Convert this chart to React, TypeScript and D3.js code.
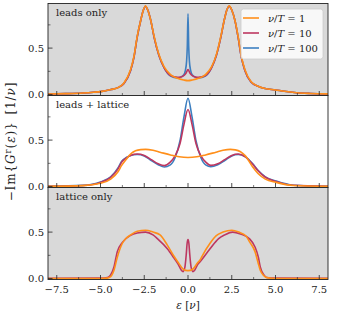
import React from "react";
import * as d3 from "d3";

// ---------- data ----------
const seriesNames = ["ν/T = 1", "ν/T = 10", "ν/T = 100"];
const panelLabels = ["leads only", "leads + lattice", "lattice only"];
const xTicksMajor = [-7.5, -5, -2.5, 0, 2.5, 5, 7.5];
const xTicksMinor = [-6.25, -3.75, -1.25, 1.25, 3.75, 6.25];
const yTicksMajor = [0, 0.5];
const yTicksMinor = [0.25, 0.75];

// Panel 1: leads only
const p1OrangeX = [-8, -7, -6, -5.4, -5, -4.4, -4, -3.66, -3.28, -3.09, -2.9, -2.7, -2.55, -2.42, -2.3, -2.13, -1.94, -1.66, -1.37, -1, -0.6, -0.25, 0, 0.25, 0.6, 1, 1.35, 1.62, 1.88, 2.07, 2.22, 2.36, 2.5, 2.68, 2.86, 3.05, 3.25, 3.6, 4.0, 4.4, 5.0, 5.5, 6.2, 7, 8];
const p1OrangeY = [0.006, 0.01, 0.017, 0.025, 0.032, 0.054, 0.075, 0.125, 0.27, 0.41, 0.63, 0.8, 0.91, 0.955, 0.91, 0.8, 0.63, 0.43, 0.3, 0.215, 0.175, 0.157, 0.15, 0.157, 0.175, 0.215, 0.3, 0.43, 0.63, 0.8, 0.91, 0.955, 0.91, 0.8, 0.63, 0.41, 0.27, 0.14, 0.09, 0.065, 0.05, 0.035, 0.02, 0.012, 0.007];
const p1RedX = [-8, -7, -6, -5.4, -5, -4.4, -4, -3.66, -3.28, -3.09, -2.9, -2.7, -2.55, -2.42, -2.3, -2.13, -1.94, -1.66, -1.37, -1, -0.6, -0.4, -0.2, -0.1, 0, 0.1, 0.2, 0.4, 0.6, 1, 1.35, 1.62, 1.88, 2.07, 2.22, 2.36, 2.5, 2.68, 2.86, 3.05, 3.25, 3.6, 4.0, 4.4, 5.0, 5.5, 6.2, 7, 8];
const p1RedY = [0.006, 0.01, 0.017, 0.025, 0.032, 0.054, 0.075, 0.12, 0.26, 0.4, 0.62, 0.8, 0.91, 0.95, 0.91, 0.8, 0.62, 0.42, 0.29, 0.205, 0.185, 0.19, 0.21, 0.235, 0.27, 0.235, 0.21, 0.19, 0.185, 0.205, 0.29, 0.42, 0.62, 0.8, 0.91, 0.95, 0.91, 0.8, 0.62, 0.4, 0.26, 0.135, 0.09, 0.065, 0.05, 0.035, 0.02, 0.012, 0.007];
const p1BlueX = [-8, -7, -6, -5.4, -5, -4.4, -4, -3.66, -3.28, -3.09, -2.9, -2.7, -2.55, -2.42, -2.3, -2.13, -1.94, -1.66, -1.37, -1, -0.6, -0.4, -0.25, -0.15, -0.08, -0.04, 0, 0.04, 0.08, 0.15, 0.25, 0.4, 0.6, 1, 1.35, 1.62, 1.88, 2.07, 2.22, 2.36, 2.5, 2.68, 2.86, 3.05, 3.25, 3.6, 4.0, 4.4, 5.0, 5.5, 6.2, 7, 8];
const p1BlueY = [0.006, 0.01, 0.017, 0.025, 0.032, 0.054, 0.075, 0.12, 0.26, 0.4, 0.62, 0.8, 0.91, 0.95, 0.91, 0.8, 0.62, 0.42, 0.29, 0.2, 0.18, 0.19, 0.21, 0.26, 0.36, 0.52, 0.87, 0.52, 0.36, 0.26, 0.21, 0.19, 0.18, 0.2, 0.29, 0.42, 0.62, 0.8, 0.91, 0.95, 0.91, 0.8, 0.62, 0.4, 0.26, 0.135, 0.09, 0.065, 0.05, 0.035, 0.02, 0.012, 0.007];

// Panel 2: leads + lattice
const p2OrangeX = [-8, -6, -5, -4.42, -4, -3.8, -3.5, -3.28, -3, -2.7, -2.42, -2, -1.6, -1, -0.5, 0, 0.5, 1, 1.6, 2, 2.42, 2.7, 3, 3.28, 3.7, 4, 4.42, 5.03, 6, 8];
const p2OrangeY = [0.003, 0.01, 0.035, 0.08, 0.16, 0.225, 0.3, 0.35, 0.385, 0.398, 0.4, 0.39, 0.37, 0.34, 0.32, 0.313, 0.32, 0.34, 0.37, 0.39, 0.4, 0.395, 0.375, 0.33, 0.21, 0.14, 0.08, 0.045, 0.012, 0.003];
const p2RedX = [-8, -6, -5, -4.42, -4, -3.8, -3.5, -3.28, -2.9, -2.5, -2.1, -1.7, -1.35, -1.03, -0.74, -0.46, -0.23, 0, 0.23, 0.46, 0.74, 1.03, 1.3, 1.7, 2.1, 2.5, 2.87, 3.28, 3.7, 4, 4.42, 5.03, 6, 8];
const p2RedY = [0.003, 0.012, 0.045, 0.1, 0.19, 0.26, 0.31, 0.335, 0.35, 0.335, 0.29, 0.245, 0.225, 0.26, 0.33, 0.46, 0.67, 0.83, 0.67, 0.46, 0.33, 0.26, 0.228, 0.245, 0.29, 0.335, 0.35, 0.32, 0.24, 0.17, 0.1, 0.055, 0.014, 0.003];
const p2BlueY = [0.003, 0.013, 0.05, 0.105, 0.2, 0.27, 0.315, 0.335, 0.345, 0.33, 0.28, 0.235, 0.21, 0.23, 0.31, 0.49, 0.75, 0.95, 0.75, 0.49, 0.31, 0.23, 0.213, 0.235, 0.28, 0.33, 0.345, 0.32, 0.245, 0.175, 0.105, 0.06, 0.015, 0.003];

// Panel 3: lattice only
const p3OrangeX = [-8, -5, -4.6, -4.42, -4.23, -4.04, -3.75, -3.5, -3.28, -2.9, -2.42, -2, -1.6, -1.18, -0.8, -0.55, -0.27, 0, 0.27, 0.55, 0.69, 0.8, 1.26, 1.6, 2, 2.5, 2.9, 3.3, 3.54, 3.83, 4.02, 4.13, 4.34, 4.5, 5, 8];
const p3OrangeY = [0, 0, 0.005, 0.02, 0.09, 0.23, 0.38, 0.44, 0.47, 0.51, 0.52, 0.5, 0.47, 0.36, 0.24, 0.17, 0.1, 0.085, 0.1, 0.17, 0.2, 0.24, 0.38, 0.46, 0.5, 0.52, 0.5, 0.46, 0.39, 0.29, 0.16, 0.09, 0.03, 0.01, 0, 0];
const p3RedX = [-8, -5, -4.6, -4.42, -4.23, -4.04, -3.75, -3.28, -2.9, -2.42, -2, -1.75, -1.18, -0.8, -0.55, -0.38, -0.28, -0.18, -0.1, -0.05, 0, 0.05, 0.1, 0.18, 0.28, 0.38, 0.55, 0.69, 1.26, 1.75, 2.1, 2.55, 3, 3.5, 3.83, 4.02, 4.13, 4.34, 4.5, 5, 8];
const p3RedY = [0.003, 0.005, 0.012, 0.04, 0.125, 0.29, 0.39, 0.465, 0.49, 0.5, 0.47, 0.43, 0.32, 0.22, 0.15, 0.09, 0.075, 0.12, 0.26, 0.38, 0.42, 0.38, 0.26, 0.12, 0.075, 0.09, 0.15, 0.18, 0.32, 0.43, 0.47, 0.5, 0.48, 0.43, 0.34, 0.23, 0.125, 0.04, 0.012, 0.005, 0.003];

const colors = ["#ff8f1a", "#bd3760", "#3d7fc0"];

type Line = { xs: number[]; ys: number[]; color: string };

const panels: { label: string; bg: string; lines: Line[] }[] = [
  {
    label: panelLabels[0],
    bg: "#d9d9d9",
    lines: [
      { xs: p1BlueX, ys: p1BlueY, color: colors[2] },
      { xs: p1RedX, ys: p1RedY, color: colors[1] },
      { xs: p1OrangeX, ys: p1OrangeY, color: colors[0] },
    ],
  },
  {
    label: panelLabels[1],
    bg: "#ffffff",
    lines: [
      { xs: p2RedX, ys: p2BlueY, color: colors[2] },
      { xs: p2RedX, ys: p2RedY, color: colors[1] },
      { xs: p2OrangeX, ys: p2OrangeY, color: colors[0] },
    ],
  },
  {
    label: panelLabels[2],
    bg: "#d9d9d9",
    lines: [
      { xs: p3RedX, ys: p3RedY, color: colors[1] },
      { xs: p3OrangeX, ys: p3OrangeY, color: colors[0] },
    ],
  },
];

const W = 339;
const H = 314;
const left = 48;
const right = 328;
const panelTop = 3.5;
const panelH = 92;
const font = "'DejaVu Serif', serif";

const fmt = (v: number) => (v < 0 ? "\u2212" + Math.abs(v).toFixed(1) : v.toFixed(1));

export default function App() {
  const x = d3.scaleLinear().domain([-8, 8]).range([left, right]);
  return (
    <svg
      width={W}
      height={H}
      style={{ position: "absolute", left: 0, top: 0, background: "#fff" }}
      fontFamily={font}
    >
      <defs>
        {panels.map((p, i) => (
          <clipPath id={`clip${i}`} key={i}>
            <rect x={left} y={panelTop + i * panelH} width={right - left} height={panelH} />
          </clipPath>
        ))}
      </defs>
      {panels.map((p, i) => {
        const top = panelTop + i * panelH;
        const bottom = top + panelH;
        const y = d3.scaleLinear().domain([-0.01, 0.98]).range([bottom, top]);
        const line = d3
          .line<[number, number]>()
          .x((d) => x(d[0]))
          .y((d) => y(d[1]))
          .curve(d3.curveMonotoneX);
        return (
          <g key={i}>
            <rect x={left} y={top} width={right - left} height={panelH} fill={p.bg} />
            <g clipPath={`url(#clip${i})`}>
              {p.lines.map((l, j) => (
                <path
                  key={j}
                  d={line(l.xs.map((v, k) => [v, l.ys[k]] as [number, number])) || ""}
                  fill="none"
                  stroke={l.color}
                  strokeWidth={1.6}
                  strokeLinejoin="round"
                />
              ))}
            </g>
            {xTicksMajor.map((t) => (
              <line key={"xM" + t} x1={x(t)} x2={x(t)} y1={bottom} y2={bottom - 4.5} stroke="#222" strokeWidth={0.8} />
            ))}
            {xTicksMinor.map((t) => (
              <line key={"xm" + t} x1={x(t)} x2={x(t)} y1={bottom} y2={bottom - 2.5} stroke="#222" strokeWidth={0.6} />
            ))}
            {yTicksMajor.map((t) => (
              <line key={"yM" + t} x1={left} x2={left + 4.5} y1={y(t)} y2={y(t)} stroke="#222" strokeWidth={0.8} />
            ))}
            {yTicksMinor.map((t) => (
              <line key={"ym" + t} x1={left} x2={left + 2.5} y1={y(t)} y2={y(t)} stroke="#222" strokeWidth={0.6} />
            ))}
            {yTicksMajor.map((t) => (
              <text key={"yl" + t} x={left - 4} y={y(t)} dy="0.35em" textAnchor="end" fontSize={10} fill="#222">
                {fmt(t)}
              </text>
            ))}
            <text x={left + 8} y={top + 12.5} fontSize={10} fill="#222">
              {p.label}
            </text>
            <rect x={left} y={top} width={right - left} height={panelH} fill="none" stroke="#222" strokeWidth={0.9} />
          </g>
        );
      })}
      {xTicksMajor.map((t) => (
        <text key={"xl" + t} x={x(t)} y={panelTop + 3 * panelH + 13} textAnchor="middle" fontSize={10} fill="#222">
          {fmt(t)}
        </text>
      ))}
      <text x={x(0)} y={309} textAnchor="middle" fontSize={10.5} fill="#222">
        <tspan fontStyle="italic">ε</tspan>
        <tspan> [</tspan>
        <tspan fontStyle="italic">ν</tspan>
        <tspan>]</tspan>
      </text>
      <text
        transform={`translate(15, ${panelTop + 1.5 * panelH}) rotate(-90)`}
        textAnchor="middle"
        fontSize={12}
        letterSpacing={0.9}
        fill="#222"
      >
        <tspan>{"\u2212Im{"}</tspan>
        <tspan fontStyle="italic">G</tspan>
        <tspan fontSize={8.5} dy={-4.5}>r</tspan>
        <tspan dy={4.5}>(</tspan>
        <tspan fontStyle="italic">ε</tspan>
        <tspan>{")}\u2002[1/"}</tspan>
        <tspan fontStyle="italic">ν</tspan>
        <tspan>]</tspan>
      </text>
      <g>
        <rect x={241} y={9} width={82} height={50} rx={2.5} fill="#fff" fillOpacity={0.8} stroke="#ccc" strokeWidth={0.8} />
        {seriesNames.map((s, i) => (
          <g key={s}>
            <line x1={243} x2={259} y1={18 + i * 15} y2={18 + i * 15} stroke={colors[i]} strokeWidth={1.6} />
            <text x={268} y={18 + i * 15} dy="0.35em" fontSize={10} fill="#222">
              <tspan fontStyle="italic">ν</tspan>
              <tspan>/</tspan>
              <tspan fontStyle="italic">T</tspan>
              <tspan>{" = " + s.split("= ")[1]}</tspan>
            </text>
          </g>
        ))}
      </g>
    </svg>
  );
}
